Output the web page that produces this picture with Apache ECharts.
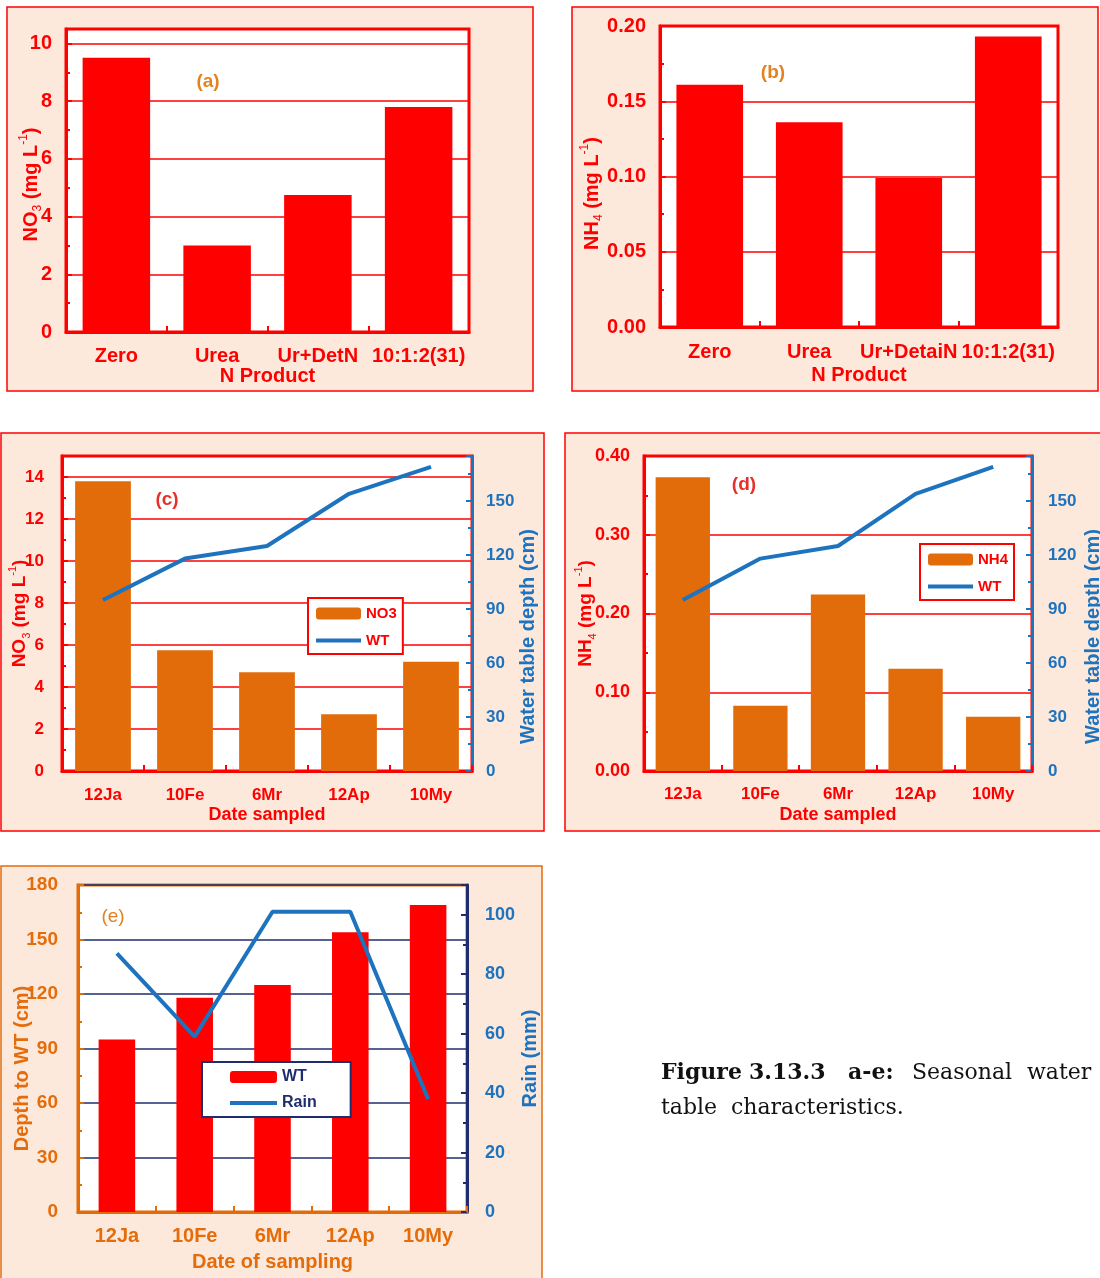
<!DOCTYPE html>
<html>
<head>
<meta charset="utf-8">
<script src="https://cdn.jsdelivr.net/npm/echarts@6/dist/echarts.min.js"></script>
<style>
  html, body { margin: 0; padding: 0; background: #fff; }
  #chart { width: 1100px; height: 1278px; }
</style>
</head>
<body>
<div id="chart"></div>
<script>
// ---- data ----
const productsA = ['Zero', 'Urea', 'Ur+DetN', '10:1:2(31)'];
const productsB = ['Zero', 'Urea', 'Ur+DetaiN', '10:1:2(31)'];
const no3ByProduct = [9.5, 3.0, 4.75, 7.8];
const nh4ByProduct = [0.161, 0.136, 0.099, 0.193];
const dates = ['12Ja', '10Fe', '6Mr', '12Ap', '10My'];
const no3ByDate = [13.8, 5.75, 4.7, 2.7, 5.2];
const nh4ByDate = [0.373, 0.083, 0.224, 0.13, 0.069];
const wtDepth = [95, 118, 125, 154, 169];
const rainfall = [87, 59, 101, 101, 38];

// ---- colours & fonts ----
const RED = '#ff0000';
const ORANGE_BAR = '#e36c0a';
const ORANGE_TXT = '#e46c0a';
const LABEL_OR = '#e3821e';
const BLUE = '#1e73be';
const NAVY = '#1f2d6e';
const PANEL_BG = '#fde9dc';
const FONT = '"Liberation Sans", Arial, sans-serif';
const LINE_ICON = 'path://M0,0H45V4H0Z';

const chart = echarts.init(document.getElementById('chart'), null, { renderer: 'canvas' });

function txt(color, size, bold) {
  return { color: color, fontSize: size, fontWeight: bold === false ? 'normal' : 'bold', fontFamily: FONT };
}
// axis title with sub/superscripts; shift moves it along the axis (towards the origin)
function richName(color, size, shift) {
  return Object.assign(txt(color, size), {
    padding: [0, shift || 0, 0, 0],
    rich: {
      n: Object.assign(txt(color, size), { lineHeight: size + 6, verticalAlign: 'middle' }),
      sub: Object.assign(txt(color, Math.round(size * 0.6), false), { verticalAlign: 'bottom', lineHeight: size + 6 }),
      sup: Object.assign(txt(color, Math.round(size * 0.6), false), { verticalAlign: 'top', lineHeight: size + 6 })
    }
  });
}
function plainName(color, size, shift) {
  return Object.assign(txt(color, size), { padding: [0, shift || 0, 0, 0] });
}

function valueAxis(o) {
  return {
    type: 'value',
    gridIndex: o.grid,
    position: o.position || 'left',
    min: 0, max: o.max, interval: o.interval,
    name: o.name, nameLocation: 'middle', nameGap: o.nameGap, nameRotate: 90,
    nameMoveOverlap: false,
    nameTextStyle: o.nameStyle,
    axisLine: { show: true, lineStyle: { color: o.lineColor, width: 3 } },
    axisTick: { show: true, inside: true, length: 6, lineStyle: { color: o.lineColor, width: 2 } },
    minorTick: { show: true, splitNumber: 2, length: 4, lineStyle: { color: o.lineColor, width: 2 } },
    axisLabel: Object.assign(txt(o.labelColor, o.labelSize || 18), {
      margin: o.labelMargin || 10,
      showMaxLabel: o.showMax !== false,
      formatter: o.fmt || (v => String(v))
    }),
    splitLine: o.split ? { show: true, lineStyle: { color: o.split, width: 1.5 } } : { show: false }
  };
}

function catAxis(o) {
  return {
    type: 'category',
    gridIndex: o.grid,
    data: o.data,
    name: o.name, nameLocation: 'middle', nameGap: o.nameGap,
    nameMoveOverlap: false,
    nameTextStyle: txt(o.color, o.nameSize || 18),
    axisLine: { show: true, lineStyle: { color: o.lineColor, width: 3 } },
    axisTick: { show: true, inside: true, length: 6, alignWithLabel: false, lineStyle: { color: o.lineColor, width: 2 } },
    axisLabel: Object.assign(txt(o.color, o.labelSize || 18), { interval: 0, margin: o.labelMargin || 14 }),
    splitLine: { show: false }
  };
}
// extra axis used only to draw the mid-category ticks
function centreTicks(grid, data, color) {
  return {
    type: 'category', gridIndex: grid, data: data, position: 'bottom',
    axisLine: { show: false },
    axisTick: { show: true, inside: true, length: 6, alignWithLabel: true, lineStyle: { color: color, width: 2 } },
    axisLabel: { show: false }, splitLine: { show: false }
  };
}

const panels = [
  { x: 7, y: 7, w: 526, h: 384, stroke: RED },
  { x: 572, y: 7, w: 526, h: 384, stroke: RED },
  { x: 1, y: 433, w: 543, h: 398, stroke: RED },
  { x: 565, y: 433, w: 540, h: 398, stroke: RED },
  { x: 1, y: 866, w: 541, h: 420, stroke: ORANGE_BAR }
];

const graphics = panels.map(p => ({
  type: 'rect', z: -10, silent: true,
  shape: { x: p.x, y: p.y, width: p.w, height: p.h },
  style: { fill: PANEL_BG, stroke: p.stroke, lineWidth: 1.5 }
}));
const tag = (text, x, y, color, weight) => ({
  type: 'text', z: 100, x: x, y: y,
  style: { text: text, fill: color, font: (weight || 'bold') + ' 19px ' + FONT, textAlign: 'center', textVerticalAlign: 'middle' }
});
graphics.push(tag('(a)', 208, 82, LABEL_OR));
graphics.push(tag('(b)', 773, 73, LABEL_OR));
graphics.push(tag('(c)', 167, 500, '#e8302a'));
graphics.push(tag('(d)', 744, 485, '#e8302a'));
graphics.push(tag('(e)', 113, 917, LABEL_OR, 'normal'));

// caption, words spread across the line
const capFont = '22px "DejaVu Serif", serif';
const capBold = 'bold 22px "DejaVu Serif", serif';
[
  ['Figure', 661, capBold], ['3.13.3', 749, capBold], ['a-e:', 848, capBold],
  ['Seasonal', 912, capFont], ['water', 1027, capFont]
].forEach(w => graphics.push({ type: 'text', x: w[1], y: 1073, style: { text: w[0], font: w[2], fill: '#111', textVerticalAlign: 'middle' } }));
[
  ['table', 661, capFont], ['characteristics.', 731, capFont]
].forEach(w => graphics.push({ type: 'text', x: w[1], y: 1108, style: { text: w[0], font: w[2], fill: '#111', textVerticalAlign: 'middle' } }));

const gridBase = { show: true, backgroundColor: '#ffffff', borderWidth: 3, containLabel: false, outerBoundsMode: 'none' };

const option = {
  backgroundColor: '#ffffff',
  animation: false,
  graphic: graphics,
  grid: [
    Object.assign({ left: 66, top: 29, width: 403, height: 303, borderColor: RED }, gridBase),
    Object.assign({ left: 660, top: 26, width: 398, height: 301, borderColor: RED }, gridBase),
    Object.assign({ left: 62, top: 456, width: 410, height: 315, borderColor: RED }, gridBase),
    Object.assign({ left: 644, top: 456, width: 388, height: 315, borderColor: RED }, gridBase),
    Object.assign({ left: 78, top: 885, width: 389, height: 327, borderColor: ORANGE_BAR }, gridBase)
  ],
  xAxis: [
    catAxis({ grid: 0, data: productsA, name: 'N Product', nameGap: 34, color: RED, lineColor: RED, labelSize: 20, nameSize: 20, labelMargin: 14 }),
    catAxis({ grid: 1, data: productsB, name: 'N Product', nameGap: 38, color: RED, lineColor: RED, labelSize: 20, nameSize: 20, labelMargin: 15 }),
    catAxis({ grid: 2, data: dates, name: 'Date sampled', nameGap: 35, color: RED, lineColor: RED, labelSize: 17, nameSize: 18, labelMargin: 16 }),
    catAxis({ grid: 3, data: dates, name: 'Date sampled', nameGap: 35, color: RED, lineColor: RED, labelSize: 17, nameSize: 18, labelMargin: 15 }),
    catAxis({ grid: 4, data: dates, name: 'Date of sampling', nameGap: 40, color: ORANGE_TXT, lineColor: ORANGE_BAR, labelSize: 20, nameSize: 20, labelMargin: 14 }),
    centreTicks(2, dates, RED),
    centreTicks(3, dates, RED),
    centreTicks(4, dates, ORANGE_BAR)
  ],
  yAxis: [
    valueAxis({ grid: 0, max: 10.5, interval: 2, showMax: false, lineColor: RED, labelColor: RED, split: RED, labelSize: 20,
      name: '{n|NO}{sub|3}{n| (mg L}{sup|-1}{n|)}', nameGap: 22, nameStyle: richName(RED, 20, 8), labelMargin: 14 }),
    valueAxis({ grid: 1, max: 0.2, interval: 0.05, lineColor: RED, labelColor: RED, split: RED, labelSize: 20, fmt: v => v.toFixed(2),
      name: '{n|NH}{sub|4}{n| (mg L}{sup|-1}{n|)}', nameGap: 55, nameStyle: richName(RED, 20, 34), labelMargin: 14 }),
    valueAxis({ grid: 2, max: 15, interval: 2, showMax: false, lineColor: RED, labelColor: RED, split: RED, labelSize: 17,
      name: '{n|NO}{sub|3}{n| (mg L}{sup|-1}{n|)}', nameGap: 30, nameStyle: richName(RED, 19, 0), labelMargin: 18 }),
    valueAxis({ grid: 2, position: 'right', max: 175, interval: 30, showMax: false, lineColor: BLUE, labelColor: BLUE, labelSize: 17,
      name: 'Water table depth (cm)', nameGap: 46, nameStyle: plainName(BLUE, 20, 46), labelMargin: 14 }),
    valueAxis({ grid: 3, max: 0.4, interval: 0.1, lineColor: RED, labelColor: RED, split: RED, labelSize: 18, fmt: v => v.toFixed(2),
      name: '{n|NH}{sub|4}{n| (mg L}{sup|-1}{n|)}', nameGap: 46, nameStyle: richName(RED, 19, 0), labelMargin: 14 }),
    valueAxis({ grid: 3, position: 'right', max: 175, interval: 30, showMax: false, lineColor: BLUE, labelColor: BLUE, labelSize: 17,
      name: 'Water table depth (cm)', nameGap: 51, nameStyle: plainName(BLUE, 20, 46), labelMargin: 16 }),
    valueAxis({ grid: 4, max: 180, interval: 30, lineColor: ORANGE_BAR, labelColor: ORANGE_TXT, split: NAVY, labelSize: 19,
      name: 'Depth to WT (cm)', nameGap: 46, nameStyle: plainName(ORANGE_TXT, 20, 40), labelMargin: 20 }),
    valueAxis({ grid: 4, position: 'right', max: 110, interval: 20, showMax: false, lineColor: NAVY, labelColor: BLUE, labelSize: 18,
      name: 'Rain (mm)', nameGap: 53, nameStyle: plainName(BLUE, 20, 20), labelMargin: 18 })
  ],
  legend: [
    {
      data: ['NO3', { name: 'WT-c', icon: LINE_ICON }], orient: 'vertical', left: 308, top: 598,
      itemWidth: 45, itemHeight: 12, itemGap: 12, symbolKeepAspect: true,
      padding: [8, 6, 6, 8], borderColor: RED, borderWidth: 2, backgroundColor: '#fff',
      textStyle: txt(RED, 15), formatter: n => n.split('-')[0], selectedMode: false
    },
    {
      data: ['NH4', { name: 'WT-d', icon: LINE_ICON }], orient: 'vertical', left: 920, top: 544,
      itemWidth: 45, itemHeight: 12, itemGap: 12, symbolKeepAspect: true,
      padding: [8, 6, 6, 8], borderColor: RED, borderWidth: 2, backgroundColor: '#fff',
      textStyle: txt(RED, 15), formatter: n => n.split('-')[0], selectedMode: false
    },
    {
      data: ['WT-e', { name: 'Rain', icon: LINE_ICON }], orient: 'vertical', left: 202, top: 1062,
      itemWidth: 47, itemHeight: 12, itemGap: 10, symbolKeepAspect: true,
      padding: [7, 34, 6, 28], borderColor: NAVY, borderWidth: 2, backgroundColor: '#fff',
      textStyle: txt(NAVY, 16), formatter: n => n.split('-')[0], selectedMode: false
    }
  ],
  series: [
    { type: 'bar', name: 'NO3-a', xAxisIndex: 0, yAxisIndex: 0, data: no3ByProduct, barWidth: '67%', itemStyle: { color: RED } },
    { type: 'bar', name: 'NH4-b', xAxisIndex: 1, yAxisIndex: 1, data: nh4ByProduct, barWidth: '67%', itemStyle: { color: RED } },
    { type: 'bar', name: 'NO3', xAxisIndex: 2, yAxisIndex: 2, data: no3ByDate, barWidth: '68%', itemStyle: { color: ORANGE_BAR } },
    { type: 'line', name: 'WT-c', xAxisIndex: 2, yAxisIndex: 3, data: wtDepth, symbol: 'none', z: 5,
      lineStyle: { color: BLUE, width: 4 }, itemStyle: { color: BLUE } },
    { type: 'bar', name: 'NH4', xAxisIndex: 3, yAxisIndex: 4, data: nh4ByDate, barWidth: '70%', itemStyle: { color: ORANGE_BAR } },
    { type: 'line', name: 'WT-d', xAxisIndex: 3, yAxisIndex: 5, data: wtDepth, symbol: 'none', z: 5,
      lineStyle: { color: BLUE, width: 4 }, itemStyle: { color: BLUE } },
    { type: 'bar', name: 'WT-e', xAxisIndex: 4, yAxisIndex: 6, data: wtDepth, barWidth: '47%', itemStyle: { color: RED } },
    { type: 'line', name: 'Rain', xAxisIndex: 4, yAxisIndex: 7, data: rainfall, symbol: 'none', z: 5,
      lineStyle: { color: BLUE, width: 4 }, itemStyle: { color: BLUE } }
  ]
};

chart.setOption(option);
</script>
</body>
</html>
